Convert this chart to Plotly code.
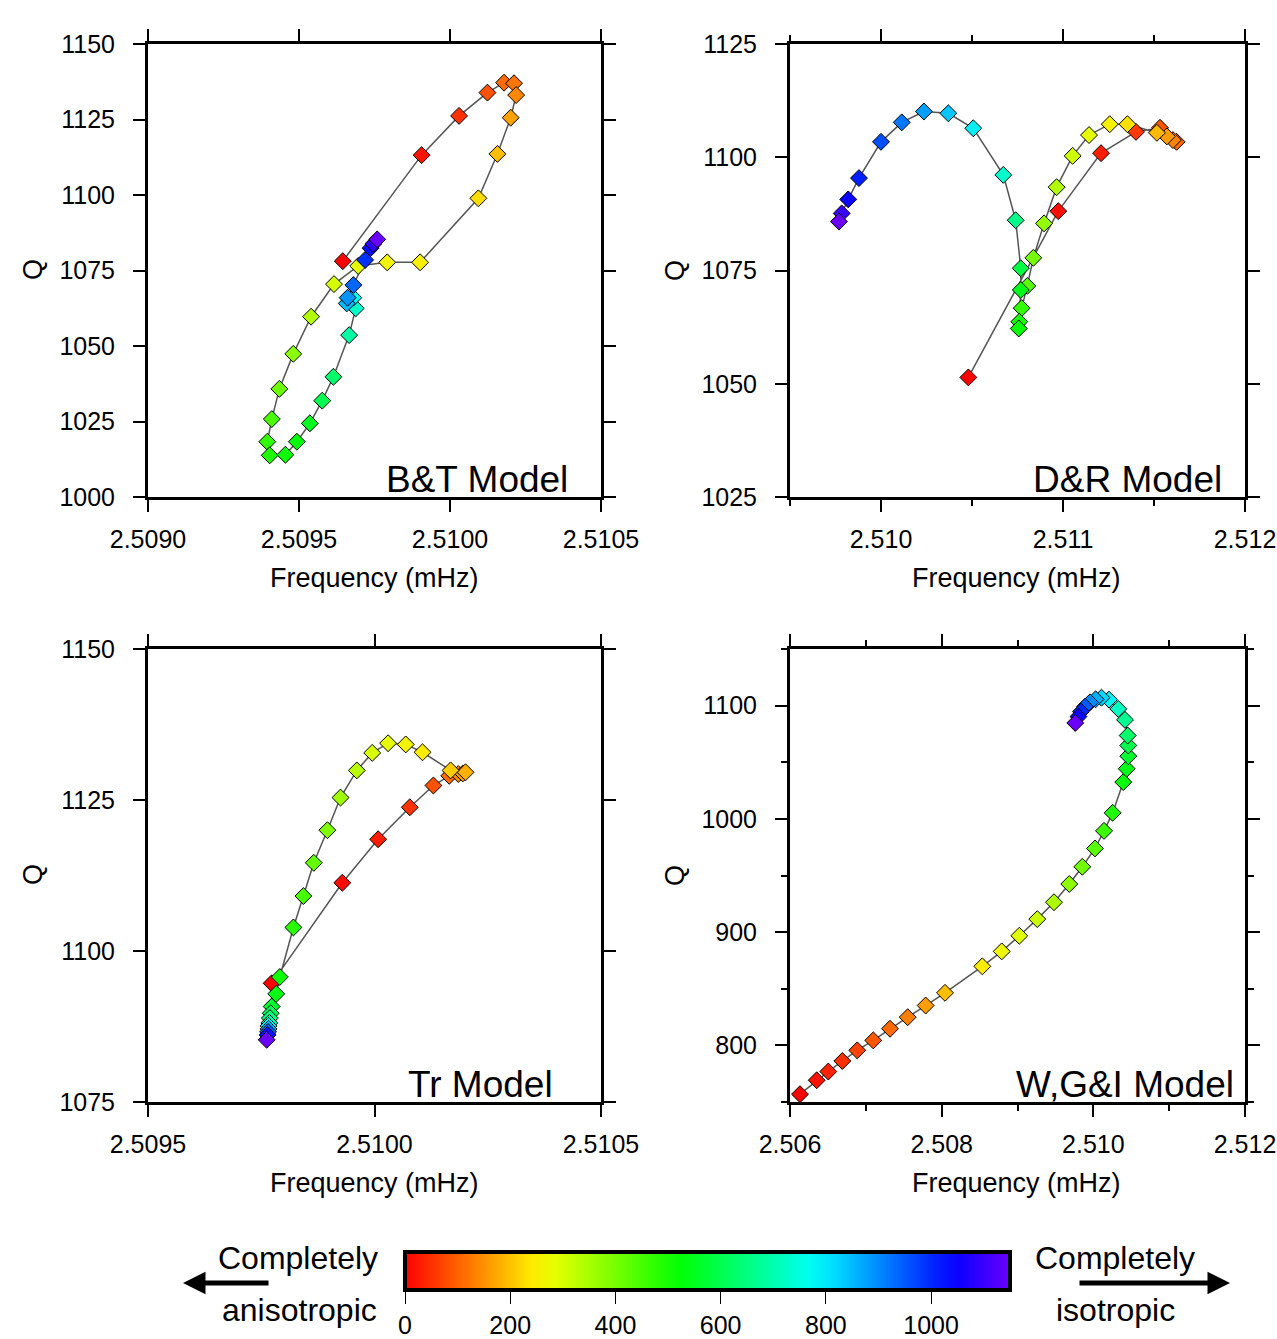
import colorsys
import plotly.graph_objects as go

# ---------------- data ----------------
# colour value = thickness parameter (0 = completely anisotropic ... 1150 = completely isotropic)
bt_freq = [2.509645, 2.509906, 2.510030, 2.510124, 2.510179, 2.510212, 2.510219, 2.510201,
           2.510157, 2.510094, 2.509901, 2.509792, 2.509696, 2.509616, 2.509540, 2.509481,
           2.509435, 2.509410, 2.509395, 2.509403, 2.509455, 2.509493, 2.509536, 2.509577,
           2.509614, 2.509666, 2.509688, 2.509680, 2.509658, 2.509661, 2.509680, 2.509719,
           2.509737, 2.509746, 2.509759]
bt_q = [1078.1, 1113.2, 1126.2, 1133.9, 1137.2, 1137.0, 1133.1, 1125.6, 1113.6, 1098.9,
        1077.7, 1077.7, 1076.5, 1070.5, 1059.7, 1047.4, 1035.8, 1025.8, 1018.3, 1013.8,
        1014.0, 1018.3, 1024.4, 1031.9, 1039.8, 1053.6, 1062.5, 1066.0, 1064.1, 1066.0,
        1070.2, 1078.5, 1082.4, 1083.8, 1085.3]
bt_layer = [0, 20, 50, 85, 110, 120, 140, 165, 195, 225, 250, 260, 285, 305, 340, 380, 410,
            445, 470, 490, 510, 530, 555, 600, 630, 690, 730, 775, 850, 890, 935, 990, 1035,
            1090, 1150]

dr_freq = [2.510480, 2.510974, 2.511209, 2.511401, 2.511533, 2.511624, 2.511604, 2.511571,
           2.511516, 2.511354, 2.511257, 2.511143, 2.511053, 2.510965, 2.510896, 2.510837,
           2.510804, 2.510773, 2.510760, 2.510757, 2.510768, 2.510768, 2.510740, 2.510672,
           2.510507, 2.510370, 2.510236, 2.510114, 2.510000, 2.509879, 2.509820, 2.509784,
           2.509769]
dr_q = [1051.4, 1088.1, 1100.9, 1105.6, 1106.5, 1103.4, 1103.8, 1104.6, 1105.4, 1107.3,
        1107.3, 1104.9, 1100.3, 1093.4, 1085.4, 1077.8, 1071.6, 1066.7, 1063.7, 1062.2,
        1070.7, 1075.5, 1086.1, 1096.1, 1106.4, 1109.7, 1110.1, 1107.7, 1103.4, 1095.4,
        1090.7, 1087.6, 1085.8]
dr_layer = [0, 15, 30, 60, 90, 110, 135, 160, 190, 230, 255, 285, 310, 340, 370, 400, 430,
            470, 500, 520, 545, 590, 660, 730, 790, 840, 880, 920, 960, 1010, 1050, 1100, 1150]

tr_freq = [2.509773, 2.509929, 2.510008, 2.510078, 2.510130, 2.510165, 2.510185, 2.510195,
           2.510201, 2.510168, 2.510106, 2.510069, 2.510030, 2.509995, 2.509961, 2.509925,
           2.509896, 2.509866, 2.509843, 2.509821, 2.509791, 2.509783, 2.509773, 2.509771,
           2.509769, 2.509768, 2.509766, 2.509766, 2.509765, 2.509764, 2.509762]
tr_q = [1094.65, 1111.3, 1118.5, 1123.8, 1127.4, 1129.0, 1129.3, 1129.4, 1129.6, 1129.9,
        1132.9, 1134.2, 1134.4, 1132.8, 1129.9, 1125.4, 1120.0, 1114.6, 1109.1, 1103.9,
        1095.7, 1092.9, 1090.8, 1089.7, 1088.9, 1088.1, 1087.6, 1087.1, 1086.6, 1086.1,
        1085.3]
tr_layer = [0, 10, 30, 55, 85, 110, 140, 160, 180, 210, 245, 260, 280, 300, 330, 360, 390,
            420, 450, 480, 510, 540, 570, 610, 650, 700, 780, 860, 940, 1030, 1150]

wgi_freq = [2.506132, 2.506352, 2.506505, 2.506690, 2.506887, 2.507098, 2.507319, 2.507552,
            2.507789, 2.508044, 2.508536, 2.508792, 2.509024, 2.509261, 2.509481, 2.509683,
            2.509855, 2.510022, 2.510141, 2.510255, 2.510395, 2.510440, 2.510461, 2.510461,
            2.510453, 2.510418, 2.510329, 2.510207, 2.510108, 2.510030, 2.509956, 2.509890,
            2.509837, 2.509804, 2.509762]
wgi_q = [756.9, 769.2, 776.9, 786.2, 795.6, 804.4, 814.7, 824.9, 835.2, 846.4, 869.8, 883.0,
         896.8, 911.5, 926.4, 942.5, 957.7, 973.9, 989.4, 1005.3, 1032.5, 1044.3, 1055.4,
         1064.8, 1073.6, 1087.4, 1097.1, 1105.3, 1107.0, 1105.6, 1102.9, 1099.1, 1094.7,
         1090.3, 1084.7]
wgi_layer = [0, 20, 35, 50, 70, 90, 110, 130, 160, 195, 245, 270, 290, 315, 345, 375, 405,
             430, 460, 490, 520, 545, 570, 600, 630, 670, 720, 780, 820, 860, 900, 950, 1000,
             1050, 1150]

model_names = ["B&T Model", "D&R Model", "Tr Model", "W,G&I Model"]
cbar_ticks = [0, 200, 400, 600, 800, 1000]
cmin, cmax = 0, 1150

# ---------------- colour scale (rainbow: red -> violet) ----------------
stops = []
n = 24
for i in range(n + 1):
    t = i / n
    r, g, b = colorsys.hsv_to_rgb(265.0 / 360.0 * t, 1.0, 1.0)
    stops.append([t, f"rgb({int(r*255)},{int(g*255)},{int(b*255)})"])

FONT = "Liberation Sans, Arial, Helvetica, sans-serif"
W, H = 1277, 1339

fig = go.Figure()

series = [
    (bt_freq, bt_q, bt_layer, "x", "y"),
    (dr_freq, dr_q, dr_layer, "x2", "y2"),
    (tr_freq, tr_q, tr_layer, "x3", "y3"),
    (wgi_freq, wgi_q, wgi_layer, "x4", "y4"),
]
for (fx, qy, lay, xa, ya), name in zip(series, model_names):
    fig.add_trace(go.Scatter(
        x=fx, y=qy, xaxis=xa, yaxis=ya, mode="lines+markers", name=name,
        line=dict(color="#555555", width=1.5),
        marker=dict(symbol="diamond", size=13, color=lay, coloraxis="coloraxis",
                    line=dict(color="black", width=1)),
        showlegend=False,
    ))

def px_x(p):
    return p / W

def px_y(p):
    return 1 - p / H

common = dict(showline=True, linewidth=3, linecolor="black", mirror="allticks",
              ticks="outside", ticklen=12, tickwidth=1.5, tickcolor="black",
              showgrid=False, zeroline=False,
              tickfont=dict(family=FONT, size=25, color="black"))

dom_left = [px_x(148), px_x(601)]
dom_right = [px_x(790), px_x(1245)]
dom_top = [px_y(497), px_y(44)]
dom_bot = [px_y(1102), px_y(649)]

fig.update_layout(
    xaxis=dict(domain=dom_left, anchor="y", range=[2.5090, 2.5105], dtick=0.0005,
               tick0=2.5090, tickformat=".4f", ticklabelstandoff=6, **common),
    yaxis=dict(domain=dom_top, anchor="x", range=[1000, 1150], dtick=25, tick0=1000,
               ticklabelstandoff=13, **common),
    xaxis2=dict(domain=dom_right, anchor="y2", range=[2.5095, 2.512], dtick=0.001,
                tick0=2.510, tickformat=".3f", ticklabelstandoff=6,
                minor=dict(dtick=0.0005, ticks="outside", ticklen=6, tickwidth=1.5,
                           tickcolor="black"), **common),
    yaxis2=dict(domain=dom_top, anchor="x2", range=[1025, 1125], dtick=25, tick0=1000,
                ticklabelstandoff=13, **common),
    xaxis3=dict(domain=dom_left, anchor="y3", range=[2.5095, 2.5105], dtick=0.0005,
                tick0=2.5095, tickformat=".4f", ticklabelstandoff=6, **common),
    yaxis3=dict(domain=dom_bot, anchor="x3", range=[1075, 1150], dtick=25, tick0=1000,
                ticklabelstandoff=13, **common),
    xaxis4=dict(domain=dom_right, anchor="y4", range=[2.506, 2.512], dtick=0.002,
                tick0=2.506, tickformat=".3f", ticklabelstandoff=6,
                minor=dict(dtick=0.001, ticks="outside", ticklen=6, tickwidth=1.5,
                           tickcolor="black"), **common),
    yaxis4=dict(domain=dom_bot, anchor="x4", range=[750, 1150], dtick=100, tick0=0,
                ticklabelstandoff=13,
                minor=dict(dtick=50, ticks="outside", ticklen=6, tickwidth=1.5,
                           tickcolor="black"), **common),
    coloraxis=dict(
        cmin=cmin, cmax=cmax, colorscale=stops,
        colorbar=dict(orientation="h", x=px_x(707.5), xanchor="center",
                      y=px_y(1252), yanchor="top", thickness=38,
                      lenmode="pixels", len=605, xpad=0, ypad=0,
                      outlinewidth=4, outlinecolor="black",
                      ticks="outside", ticklen=12, tickwidth=1, tickcolor="black",
                      tickvals=cbar_ticks,
                      tickfont=dict(family=FONT, size=25, color="black")),
    ),
    width=W, height=H,
    margin=dict(l=0, r=0, t=0, b=0, autoexpand=False),
    paper_bgcolor="white", plot_bgcolor="white",
    font=dict(family=FONT, color="black"),
)

ann = []
# panel labels
label_pos = [("x domain", "y domain", (570 - 148) / 453),
             ("x2 domain", "y2 domain", (1224 - 790) / 455),
             ("x3 domain", "y3 domain", (555 - 148) / 453),
             ("x4 domain", "y4 domain", (1236 - 790) / 455)]
for name, (xr, yr, xx) in zip(model_names, label_pos):
    ann.append(dict(text=name, xref=xr, yref=yr, x=xx, y=0, xanchor="right",
                    yanchor="bottom", yshift=-5, showarrow=False,
                    font=dict(family=FONT, size=37, color="black")))
# axis titles
for cx, cy in [(374, 578), (1016, 578), (374, 1183), (1016, 1183)]:
    ann.append(dict(text="Frequency (mHz)", xref="paper", yref="paper", x=px_x(cx),
                    y=px_y(cy), xanchor="center", yanchor="middle", showarrow=False,
                    font=dict(family=FONT, size=27, color="black")))
for cx, cy in [(33, 270), (675, 270), (33, 875), (675, 875)]:
    ann.append(dict(text="Q", xref="paper", yref="paper", x=px_x(cx), y=px_y(cy),
                    xanchor="center", yanchor="middle", textangle=-90, showarrow=False,
                    font=dict(family=FONT, size=27, color="black")))
# colour bar side texts
for txt, cx, cy in [("Completely", 298, 1258), ("anisotropic", 299, 1310),
                    ("Completely", 1115, 1258), ("isotropic", 1115, 1310)]:
    ann.append(dict(text=txt, xref="paper", yref="paper", x=px_x(cx), y=px_y(cy),
                    xanchor="center", yanchor="middle", showarrow=False,
                    font=dict(family=FONT, size=32, color="black")))
# arrows
ann.append(dict(text="", xref="paper", yref="paper", x=px_x(183), y=px_y(1283),
                ax=87, ay=0, showarrow=True, arrowhead=2, arrowsize=0.9,
                arrowwidth=5, arrowcolor="black"))
ann.append(dict(text="", xref="paper", yref="paper", x=px_x(1230), y=px_y(1283),
                ax=-152, ay=0, showarrow=True, arrowhead=2, arrowsize=0.9,
                arrowwidth=5, arrowcolor="black"))
fig.update_layout(annotations=ann)

fig.write_html("out.html")
